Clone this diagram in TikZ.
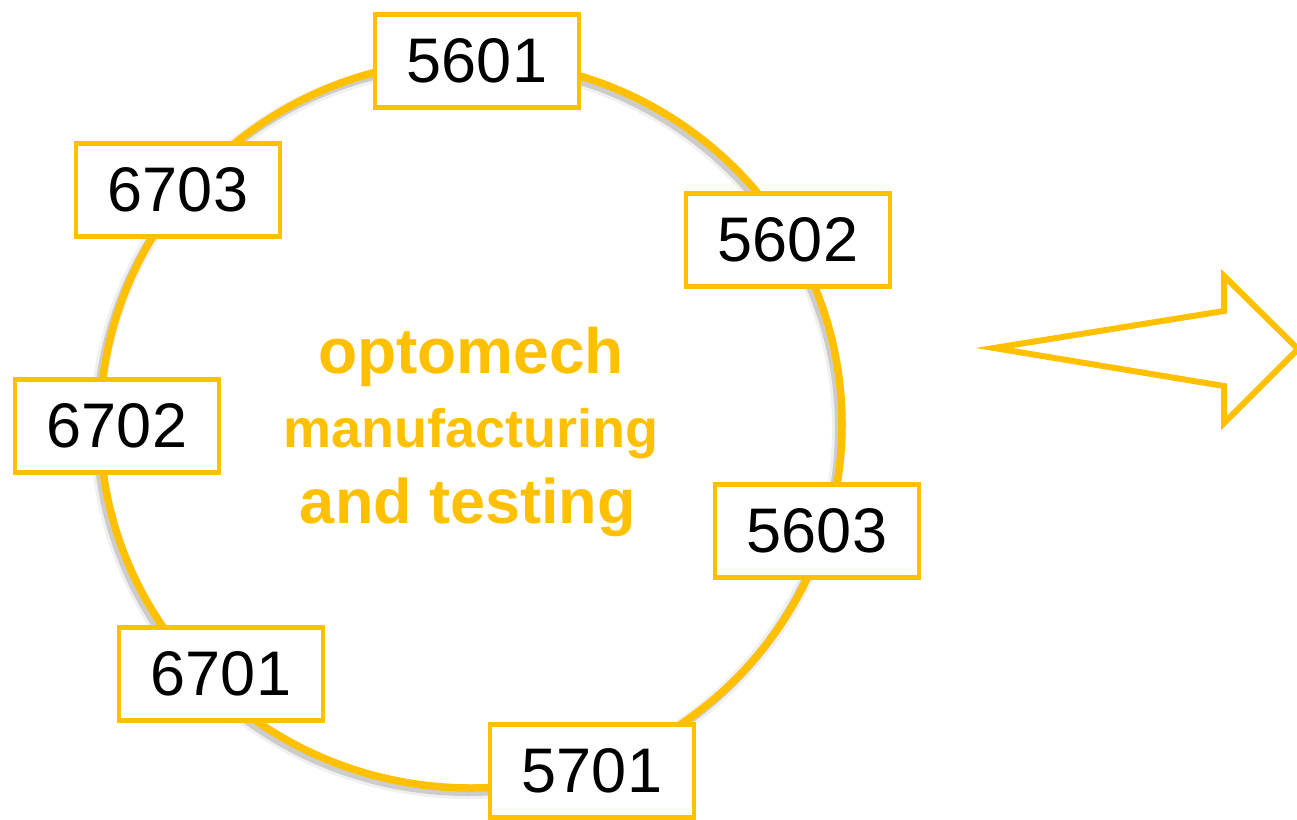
\documentclass[tikz,border=0pt]{standalone}
\usepackage{fontspec}
\setmainfont{Liberation Sans}
\definecolor{gold}{HTML}{FFC000}
\tikzset{
  numbox/.style={draw=gold, line width=4.5pt, fill=white, minimum width=204pt, minimum height=93pt,
    inner sep=0pt, font=\fontsize{63}{63}\selectfont, text=black},
  centertext/.style={anchor=base, text=gold, inner sep=0pt},
}
\begin{document}
\begin{tikzpicture}[x=1pt,y=-1pt]
\useasboundingbox (0,0) rectangle (1297,819);
% circle shadow
\draw[black!40, opacity=0.15, line width=14pt] (468,428) ellipse [x radius=371, y radius=364];
\draw[black!45, opacity=0.35, line width=8pt] (468,428) ellipse [x radius=371, y radius=364];
% circle
\draw[gold, line width=7.5pt] (471,424) ellipse [x radius=371, y radius=364];
% center text
\node[centertext, font=\bfseries\fontsize{64}{64}\selectfont] (t1) at (471,373) {optomech};
\node[centertext, font=\bfseries\fontsize{54}{54}\selectfont] (t2) at (471,447) {manufacturing};
\node[centertext, font=\bfseries\fontsize{63}{63}\selectfont] (t3) at (468,523) {and testing};
% boxes
\node[numbox] (b5601) at (477,61) {5601};
\node[numbox] (b6703) at (178,190) {6703};
\node[numbox] (b5602) at (788,240) {5602};
\node[numbox] (b6702) at (117,426) {6702};
\node[numbox] (b5603) at (817,531) {5603};
\node[numbox] (b6701) at (221,674) {6701};
\node[numbox] (b5701) at (592,771) {5701};
% arrow
\draw[gold, line width=6pt, line join=miter, fill=white]
  (994,348) -- (1224,311) -- (1224,276) -- (1298,349) -- (1224,423) -- (1224,386) -- cycle;
\end{tikzpicture}
\end{document}
